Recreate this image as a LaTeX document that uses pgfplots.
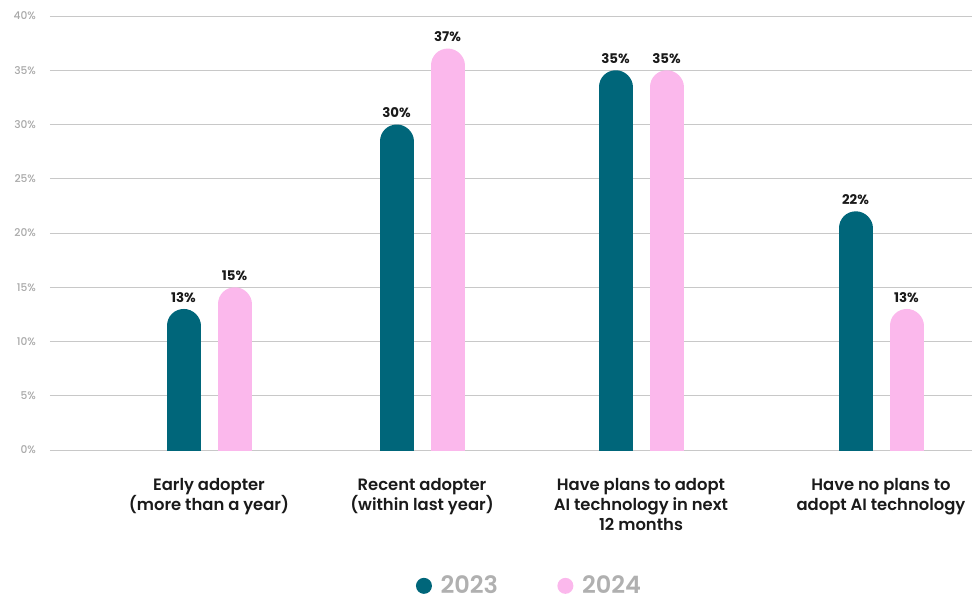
\documentclass[border=0pt]{standalone}
\usepackage{pgfplots}
\usepackage{pgfplotstable}
\pgfplotsset{compat=1.18}
\usepackage{fontspec}
\setmainfont{Poppins}
\newfontfamily\popsemi{Poppins SemiBold}
\newfontfamily\popmed{Poppins Medium}
\definecolor{cteal}{HTML}{00667A}
\definecolor{cpink}{HTML}{FBB8EC}
\definecolor{cgrid}{HTML}{C8C8C8}
\definecolor{ctick}{HTML}{A8A8A8}
\definecolor{clegend}{HTML}{B0B0B0}
\definecolor{ctext}{HTML}{1A1A1A}
\pgfplotstableread{
x v
209 13
422 30
641 35
881 22
}\dataA
\pgfplotstableread{
x v
209 15
422 37
641 35
881 13
}\dataB
\begin{document}
\begin{tikzpicture}
\path[use as bounding box] (-37.5pt,-110.25pt) rectangle (691.5pt,337.5pt);
\begin{axis}[
  at={(0pt,0pt)}, anchor=south west,
  x=0.75pt, y=8.1375pt,
  xmin=50, xmax=972, ymin=0, ymax=40,
  clip=true,
  axis line style={draw=none},
  major tick length=0pt,
  ymajorgrids, grid style={cgrid, line width=0.6pt},
  ytick={0,5,...,40},
  /pgf/number format/assume math mode=true,
  yticklabel={\pgfmathprintnumber{\tick}\%},
  yticklabel style={font=\fontsize{8}{9}\selectfont\popmed, color=ctick, xshift=-7pt},
  xtick={209,422,641,881},
  xticklabels={{Early adopter\\(more than a year)},{Recent adopter\\(within last year)},{Have plans to adopt\\AI technology in next\\12 months},{Have no plans to\\adopt AI technology}},
  xticklabel style={align=center, font=\fontsize{12.3}{15}\selectfont\popsemi, color=ctext, yshift=-17.5pt},
  legend columns=2,
  legend style={draw=none, fill=none, at={(0.5204,-0.313)}, anchor=center,
    font=\fontsize{18}{20}\selectfont\popsemi, text=clegend,
    /tikz/every even column/.append style={column sep=42.5pt}},
  every node near coord/.append style={font=\fontsize{10}{11}\selectfont\bfseries, color=ctext, yshift=1.75pt},
  point meta=explicit,
]
\addplot[ycomb, line width=25.5pt, line cap=round, color=cteal, mark=none,
  nodes near coords={\pgfmathprintnumber{\pgfplotspointmeta}\%},
  legend image code/.code={\fill[cteal, draw=none, line width=0pt] (0pt,0pt) circle (6pt); \path[draw=none, fill=none, line width=0pt] (-6pt,-6pt) rectangle (10.5pt,6pt);}]
  table[x expr=\thisrow{x}-25.5, y expr=\thisrow{v}-1.567, meta=v]{\dataA};
\addlegendentry{2023}
\addplot[ycomb, line width=25.5pt, line cap=round, color=cpink, mark=none,
  nodes near coords={\pgfmathprintnumber{\pgfplotspointmeta}\%},
  legend image code/.code={\fill[cpink, draw=none, line width=0pt] (0pt,0pt) circle (6pt); \path[draw=none, fill=none, line width=0pt] (-6pt,-6pt) rectangle (10.5pt,6pt);}]
  table[x expr=\thisrow{x}+25.5, y expr=\thisrow{v}-1.567, meta=v]{\dataB};
\addlegendentry{2024}
\end{axis}
\end{tikzpicture}
\end{document}
